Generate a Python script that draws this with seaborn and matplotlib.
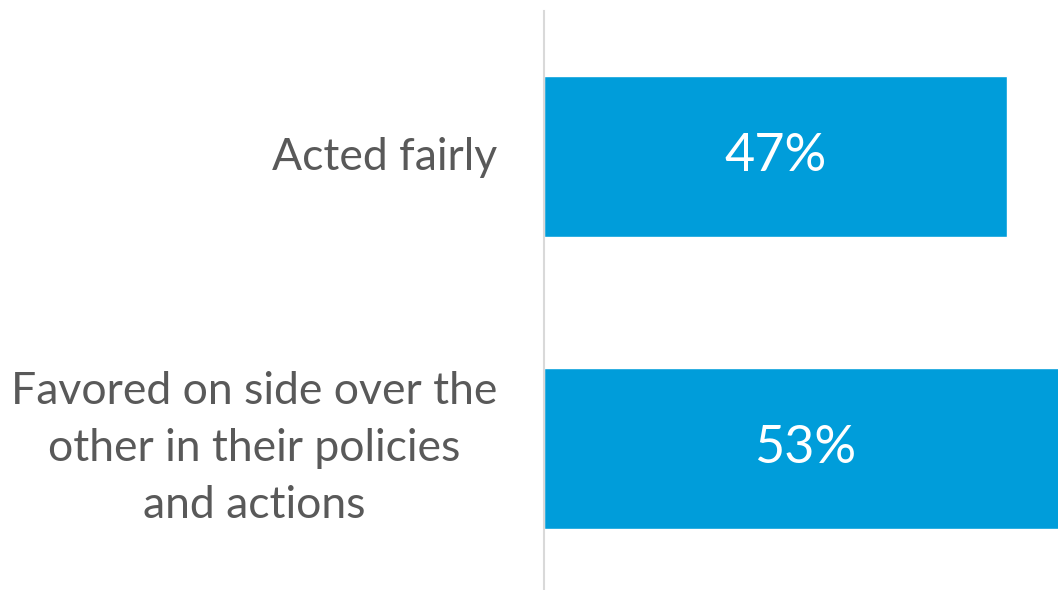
import matplotlib
matplotlib.use("Agg")
import matplotlib.pyplot as plt
import matplotlib.transforms as mtransforms
import seaborn as sns
import pandas as pd

# Survey responses
categories = ["Acted fairly",
              "Favored on side over the\nother in their policies\nand actions"]
values = [47, 53]
value_labels = ["47%", "53%"]

BAR_COLOR = "#009DDA"
TEXT_COLOR = "#595959"
AXIS_COLOR = "#D9D9D9"

sns.set_theme(style="white")
plt.rcParams["font.family"] = ["Lato", "DejaVu Sans"]

df = pd.DataFrame({"category": categories, "value": values})

fig = plt.figure(figsize=(10.58, 5.90), dpi=100)
ax = fig.add_axes([543.5 / 1058, 0.0, 1 - 543.5 / 1058, 579 / 590])

sns.barplot(data=df, x="value", y="category", orient="h", color=BAR_COLOR,
            saturation=1, width=0.551, ax=ax)

ax.set_xlim(0, 52.17)
ax.set_ylim(1.485, -0.498)

# Value labels centred in each bar
for i, (v, lab) in enumerate(zip(values, value_labels)):
    ax.text(v / 2, i, lab, ha="center", va="center", color="white",
            fontsize=37.5)

ax.set_xlabel("")
ax.set_ylabel("")
ax.set_xticks([])
ax.tick_params(axis="y", length=0, pad=33, labelsize=32, labelcolor=TEXT_COLOR)

# Category labels: centred lines, nudged up slightly so the block sits on the bar
nudges_pt = [2, 8.5]
for tick, dy in zip(ax.yaxis.get_major_ticks(), nudges_pt):
    lbl = tick.label1
    lbl.set_multialignment("center")
    lbl.set_linespacing(1.48)
    lbl.set_transform(lbl.get_transform() +
                      mtransforms.ScaledTranslation(0, dy / 72, fig.dpi_scale_trans))

for side in ["top", "right", "bottom"]:
    ax.spines[side].set_visible(False)
ax.spines["left"].set_color(AXIS_COLOR)
ax.spines["left"].set_linewidth(1.5)

fig.savefig("out.png", dpi=100, facecolor="white")
